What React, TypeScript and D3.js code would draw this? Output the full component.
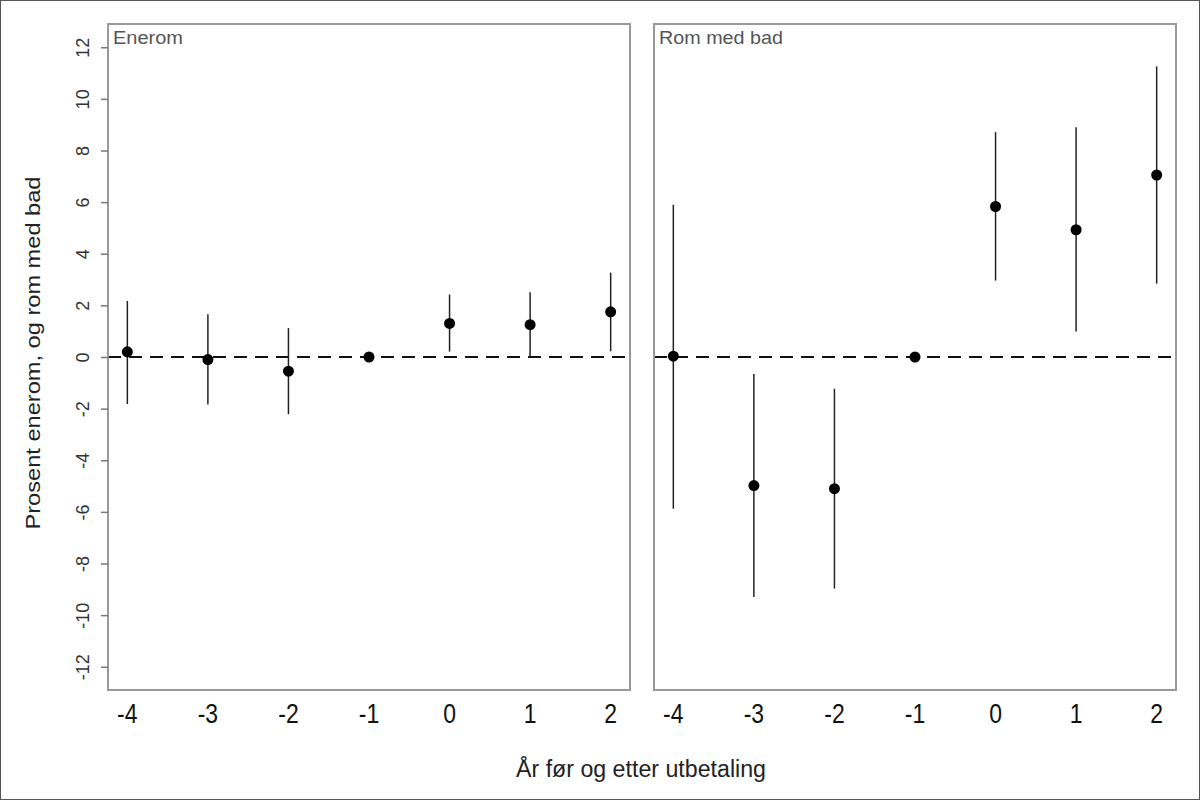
import React, { useEffect, useRef } from "react";
import * as d3 from "d3";

// years relative to payout
const years = [-4, -3, -2, -1, 0, 1, 2];

// panel 1: Enerom
const eneromEst = [0.2, -0.1, -0.55, 0, 1.3, 1.25, 1.75];
const eneromLow = [-1.82, -1.84, -2.22, null, 0.21, 0, 0.22];
const eneromHigh = [2.17, 1.66, 1.12, null, 2.42, 2.51, 3.27];

// panel 2: Rom med bad
const badEst = [0.03, -4.98, -5.1, 0, 5.83, 4.93, 7.05];
const badLow = [-5.88, -9.3, -8.97, null, 2.96, 0.99, 2.84];
const badHigh = [5.9, -0.66, -1.23, null, 8.71, 8.9, 11.26];

const yTicks = [-12, -10, -8, -6, -4, -2, 0, 2, 4, 6, 8, 10, 12];
const panelTitles = ["Enerom", "Rom med bad"];

const FONT = "'Liberation Sans', Arial, Helvetica, sans-serif";

export default function App() {
  const ref = useRef<SVGSVGElement | null>(null);

  useEffect(() => {
    const svg = d3.select(ref.current);
    svg.selectAll("*").remove();

    const top = 24;
    const bottom = 690;
    const panels = [
      { x0: 108, x1: 630, est: eneromEst, low: eneromLow, high: eneromHigh, title: panelTitles[0], titleLen: 70 },
      { x0: 654, x1: 1176, est: badEst, low: badLow, high: badHigh, title: panelTitles[1], titleLen: 124 }
    ];

    const y = d3.scaleLinear().domain([-12.9, 12.9]).range([bottom, top]);

    // outer frame
    svg
      .append("rect")
      .attr("x", 0.5)
      .attr("y", 0.5)
      .attr("width", 1199)
      .attr("height", 799)
      .attr("fill", "#fff")
      .attr("stroke", "#555")
      .attr("stroke-width", 1);

    panels.forEach((p, pi) => {
      const x = d3.scaleLinear().domain([-4.24, 2.24]).range([p.x0, p.x1]);
      const g = svg.append("g");

      // dashed zero line
      g.append("line")
        .attr("x1", p.x0)
        .attr("x2", p.x1)
        .attr("y1", y(0))
        .attr("y2", y(0))
        .attr("stroke", "#111")
        .attr("stroke-width", 2)
        .attr("stroke-dasharray", "13,8");

      // error bars
      years.forEach((yr, i) => {
        if (p.low[i] == null || p.high[i] == null) return;
        g.append("line")
          .attr("x1", x(yr))
          .attr("x2", x(yr))
          .attr("y1", y(p.low[i] as number))
          .attr("y2", y(p.high[i] as number))
          .attr("stroke", "#222")
          .attr("stroke-width", 1.5);
      });

      // points
      g.selectAll("circle.pt")
        .data(years)
        .enter()
        .append("circle")
        .attr("class", "pt")
        .attr("cx", d => x(d))
        .attr("cy", (d, i) => y(p.est[i]))
        .attr("r", 5.5)
        .attr("fill", "#000");

      // panel frame
      g.append("rect")
        .attr("x", p.x0)
        .attr("y", top)
        .attr("width", p.x1 - p.x0)
        .attr("height", bottom - top)
        .attr("fill", "none")
        .attr("stroke", "#999")
        .attr("stroke-width", 2);

      // panel title
      g.append("text")
        .attr("x", p.x0 + 5)
        .attr("y", 44)
        .attr("font-family", FONT)
        .attr("font-size", 18)
        .attr("fill", "#555")
        .attr("textLength", p.titleLen)
        .attr("lengthAdjust", "spacingAndGlyphs")
        .text(p.title);

      // x tick labels
      g.selectAll("text.xt")
        .data(years)
        .enter()
        .append("text")
        .attr("class", "xt")
        .attr("transform", d => `translate(${x(d)},723) scale(0.92,1.08)`)
        .attr("text-anchor", "middle")
        .attr("font-family", FONT)
        .attr("font-size", 25)
        .attr("fill", "#111")
        .text(d => String(d));

      // y axis only on the first panel
      if (pi === 0) {
        const yAxis = d3
          .axisLeft(y)
          .tickValues(yTicks)
          .tickSize(7)
          .tickFormat(d => String(d));
        const ag = svg
          .append("g")
          .attr("transform", `translate(${p.x0},0)`)
          .call(yAxis);
        ag.select(".domain").remove();
        ag.selectAll(".tick line").attr("stroke", "#777").attr("stroke-width", 1.5);
        ag.selectAll(".tick text")
          .attr("x", null)
          .attr("dy", null)
          .attr("text-anchor", "middle")
          .attr("font-family", FONT)
          .attr("font-size", 18)
          .attr("fill", "#333")
          .attr("transform", "translate(-25,0) rotate(-90)")
          .attr("y", 0)
          .attr("dominant-baseline", "central");
      }
    });

    // axis titles
    svg
      .append("text")
      .attr("x", 641)
      .attr("y", 777)
      .attr("text-anchor", "middle")
      .attr("font-family", FONT)
      .attr("font-size", 23)
      .attr("fill", "#222")
      .attr("textLength", 250)
      .attr("lengthAdjust", "spacingAndGlyphs")
      .text("År før og etter utbetaling");

    svg
      .append("text")
      .attr("transform", "translate(40,353) rotate(-90)")
      .attr("text-anchor", "middle")
      .attr("font-family", FONT)
      .attr("font-size", 20)
      .attr("fill", "#222")
      .attr("textLength", 353)
      .attr("lengthAdjust", "spacingAndGlyphs")
      .text("Prosent enerom, og rom med bad");
  }, []);

  return (
    <svg
      ref={ref}
      width={1200}
      height={800}
      style={{ position: "absolute", left: 0, top: 0, background: "#fff" }}
    />
  );
}
